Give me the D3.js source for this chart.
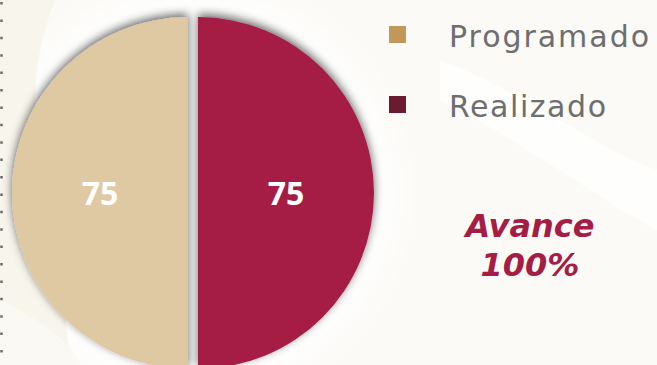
<!DOCTYPE html>
<html>
<head>
<meta charset="utf-8">
<script src="https://cdn.jsdelivr.net/npm/d3@7"></script>
<style>
  html, body { margin: 0; padding: 0; background: #ffffff; }
  svg { display: block; }
</style>
</head>
<body>
<div id="chart"></div>
<script>
// data
const categories = ["Programado", "Realizado"];
const values = [75, 75];
const avanceLabel = "Avance";
const avanceValue = "100%";

const pieColors = ["#dfc9a3", "#a51c45"];
const legendColors = ["#c0995a", "#6b1a30"];

const WIDTH = 657, HEIGHT = 365;
const CX = 193, CY = 193, R = 176, EXPLODE = 5;

const svg = d3.select("#chart").append("svg")
    .attr("width", WIDTH)
    .attr("height", HEIGHT)

const defs = svg.append("defs")
const f = defs.append("filter").attr("id", "shadow")
    .attr("x", "-20%").attr("y", "-20%").attr("width", "140%").attr("height", "140%")
f.append("feDropShadow")
    .attr("dx", 0).attr("dy", -3)
    .attr("stdDeviation", 5)
    .attr("flood-color", "#000")
    .attr("flood-opacity", 0.6)

// soft white glow behind the pie
const glow = defs.append("radialGradient").attr("id", "glow")
glow.append("stop").attr("offset", "80%").attr("stop-color", "#fff").attr("stop-opacity", 1)
glow.append("stop").attr("offset", "100%").attr("stop-color", "#fff").attr("stop-opacity", 0)

// background with soft swooshes
svg.append("rect").attr("width", WIDTH).attr("height", HEIGHT).attr("fill", "#fbfaf6")
svg.append("circle").attr("cx", CX).attr("cy", CY).attr("r", 225).attr("fill", "url(#glow)")
const bg = svg.append("g").attr("fill", "#f8f5ec")
bg.append("path").attr("d", "M0,0 L55,0 C30,60 25,140 60,260 L70,365 L0,365 Z")
bg.append("path").attr("d", "M0,300 C40,320 70,340 80,365 L0,365 Z").attr("fill", "#fbf9f4")
svg.append("g").attr("fill", "#ffffff").attr("opacity", 0.8)
    .append("path").attr("d", "M440,60 C520,90 600,150 657,170 L657,230 C600,200 520,140 440,100 Z")

// dotted border
svg.append("line")
    .attr("x1", 1.5).attr("x2", 1.5).attr("y1", 2).attr("y2", HEIGHT)
    .attr("stroke", "#6a6a6a").attr("stroke-width", 2.5)
    .attr("stroke-dasharray", "2.5 14.9")

// pie
const pie = d3.pie().sort(null).startAngle(Math.PI).endAngle(3 * Math.PI)
const arc = d3.arc().innerRadius(0).outerRadius(R)
const arcs = pie(values)

const g = svg.append("g").attr("transform", `translate(${CX},${CY})`)

const slices = g.selectAll("g.slice")
    .data(arcs)
    .enter().append("g")
    .attr("class", "slice")
    .attr("transform", d => {
        const a = (d.startAngle + d.endAngle) / 2
        return `translate(${EXPLODE * Math.sin(a)},${-EXPLODE * Math.cos(a)})`
    })

slices.append("path")
    .attr("d", arc)
    .attr("fill", (d, i) => pieColors[i])
    .attr("filter", "url(#shadow)")

slices.append("text")
    .attr("transform", d => `translate(${arc.centroid(d)})`)
    .attr("dy", "0.36em")
    .attr("text-anchor", "middle")
    .attr("fill", "#ffffff")
    .style("font-family", "'Open Sans', sans-serif")
    .style("font-weight", 700)
    .style("font-size", "32px")
    .text(d => d.data)

// legend
const legend = svg.append("g")
const items = legend.selectAll("g")
    .data(categories)
    .enter().append("g")
    .attr("transform", (d, i) => `translate(389,${26 + i * 70})`)

items.append("rect")
    .attr("width", 17).attr("height", 17)
    .attr("fill", (d, i) => legendColors[i])

items.append("text")
    .attr("x", 60).attr("y", 21)
    .attr("fill", "#6e6e6e")
    .style("font-family", "'DejaVu Sans', sans-serif")
    .style("font-size", "30px")
    .attr("textLength", (d, i) => i === 0 ? 200 : 157)
    .attr("lengthAdjust", "spacing")
    .text(d => d)

// avance text
const av = svg.append("g")
    .attr("fill", "#a51c45")
    .attr("text-anchor", "middle")
    .style("font-family", "'DejaVu Sans', sans-serif")
    .style("font-weight", "bold")
    .style("font-style", "italic")
    .style("font-size", "32px")
av.append("text").attr("x", 530).attr("y", 237).text(avanceLabel)
av.append("text").attr("x", 530).attr("y", 276).text(avanceValue)
</script>
</body>
</html>
